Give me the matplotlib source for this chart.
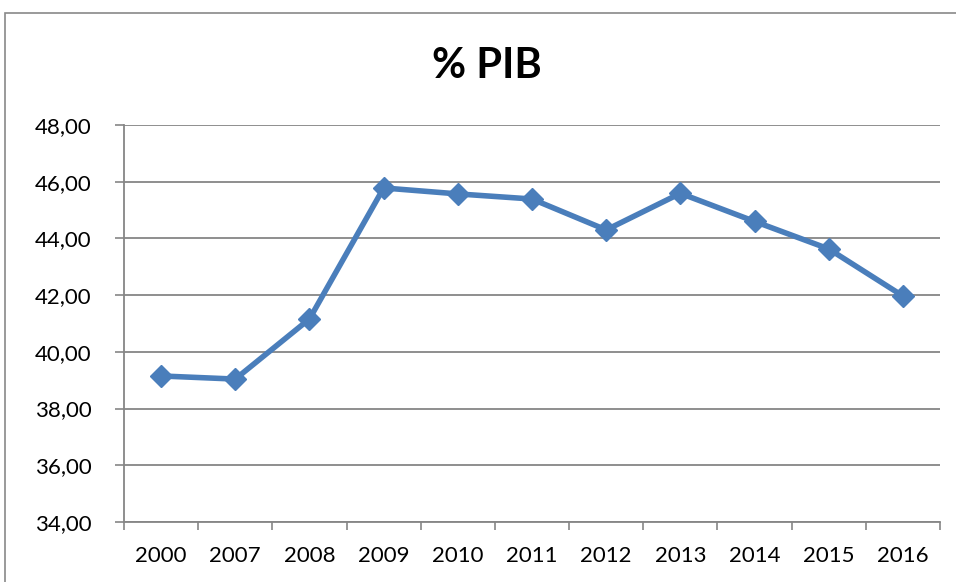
import matplotlib
matplotlib.use("Agg")
import matplotlib.pyplot as plt
from matplotlib.patches import Rectangle
from matplotlib.ticker import FixedLocator, FuncFormatter

# data
years = ["2000", "2007", "2008", "2009", "2010", "2011", "2012", "2013", "2014", "2015", "2016"]
pib = [39.15, 39.04, 41.16, 45.78, 45.57, 45.39, 44.30, 45.59, 44.60, 43.63, 41.97]
y_ticks = [34, 36, 38, 40, 42, 44, 46, 48]

plt.rcParams['font.family'] = ['Lato', 'DejaVu Sans']

fig = plt.figure(figsize=(9.56, 5.82), dpi=100)
ax = fig.add_axes([124/956, 60/582, 816/956, 397/582])

#outer chart border (only top and left visible, rest runs off the image)
fig.patches.append(Rectangle((5/956, -0.1), 1.2, (582-13)/582 + 0.1,
                             transform=fig.transFigure, fill=False,
                             edgecolor='#898989', linewidth=1.2))

x = list(range(len(years)))
ax.plot(x, pib, color='#4A7EBB', linewidth=4, marker='D', markersize=11.5,
        markeredgecolor='#4A7EBB', markeredgewidth=1, markerfacecolor='#4A7EBB',
        zorder=3)

ax.set_ylim(34, 48)
ax.set_xlim(-0.5, len(years) - 0.5)
ax.set_yticks(y_ticks)
ax.yaxis.set_major_formatter(FuncFormatter(lambda v, p: f"{v:.2f}".replace('.', ',')))
ax.yaxis.grid(True, color='#868686', linewidth=1.3)
ax.set_axisbelow(True)

ax.set_xticks(x)
ax.set_xticklabels(years)
ax.xaxis.set_minor_locator(FixedLocator([i - 0.5 for i in range(len(years) + 1)]))
ax.tick_params(axis='x', which='major', length=0, pad=17, labelsize=16)
ax.tick_params(axis='x', which='minor', length=6, color='#868686', width=1.2)
ax.tick_params(axis='y', length=6.5, color='#868686', width=1.2, pad=17, labelsize=16)

for s in ['top', 'right']:
    ax.spines[s].set_visible(False)
for s in ['left', 'bottom']:
    ax.spines[s].set_color('#868686')
    ax.spines[s].set_linewidth(1.3)

fig.text(487/956, 1 - 66/582, "% PIB", ha='center', va='center',
         fontsize=30, fontweight='bold')

fig.savefig("out.png", dpi=100)
